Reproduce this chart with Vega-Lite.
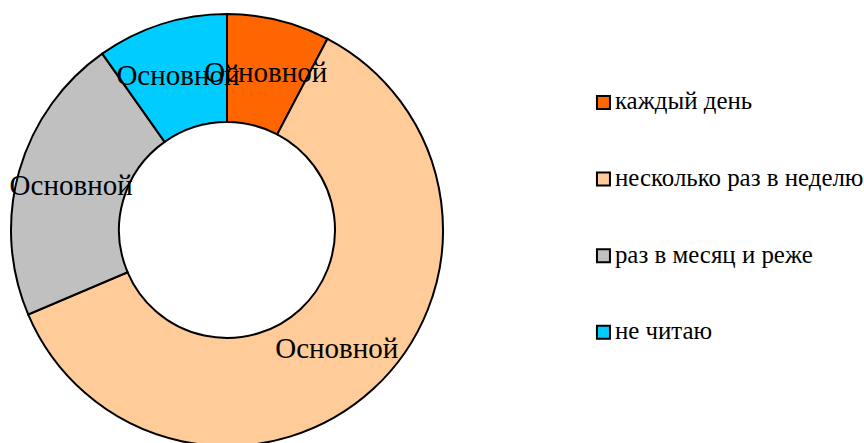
{
  "$schema": "https://vega.github.io/schema/vega-lite/v6.json",
  "width": 454,
  "height": 426,
  "padding": {"left": 0, "top": 17, "right": 410, "bottom": 0},
  "autosize": {"type": "none"},
  "background": "white",
  "config": {
    "font": "Liberation Serif",
    "view": {"stroke": null},
    "legend": {"labelFont": "Liberation Serif", "labelFontSize": 24.9, "labelColor": "black"}
  },
  "data": {
    "values": [
      {"category": "каждый день", "value": 7.7, "order": 1, "label": "Основной"},
      {"category": "несколько раз в неделю", "value": 60.9, "order": 2, "label": "Основной"},
      {"category": "раз в месяц и реже", "value": 21.6, "order": 3, "label": "Основной"},
      {"category": "не читаю", "value": 9.8, "order": 4, "label": "Основной"}
    ]
  },
  "encoding": {
    "theta": {"field": "value", "type": "quantitative", "stack": true},
    "order": {"field": "order", "type": "quantitative"}
  },
  "layer": [
    {
      "mark": {"type": "arc", "innerRadius": 108, "outerRadius": 216, "stroke": "black", "strokeWidth": 2},
      "encoding": {
        "color": {
          "field": "category",
          "type": "nominal",
          "scale": {
            "domain": ["каждый день", "несколько раз в неделю", "раз в месяц и реже", "не читаю"],
            "range": ["#FF6600", "#FFCC99", "#C0C0C0", "#00CCFF"]
          },
          "legend": {
            "title": null,
            "orient": "none",
            "legendX": 591,
            "legendY": 73,
            "padding": 0,
            "symbolType": "square",
            "symbolSize": 169,
            "symbolStrokeColor": "black",
            "symbolStrokeWidth": 2,
            "symbolOpacity": 1,
            "labelFont": "Liberation Serif",
            "labelFontSize": 24.9,
            "labelColor": "black",
            "labelOffset": -1,
            "rowPadding": 50.6,
            "labelLimit": 0
          }
        }
      }
    },
    {
      "mark": {"type": "text", "radius": 162, "font": "Liberation Serif", "fontSize": 29, "align": "center", "baseline": "middle", "color": "black"},
      "encoding": {"text": {"field": "label", "type": "nominal"}}
    }
  ]
}
